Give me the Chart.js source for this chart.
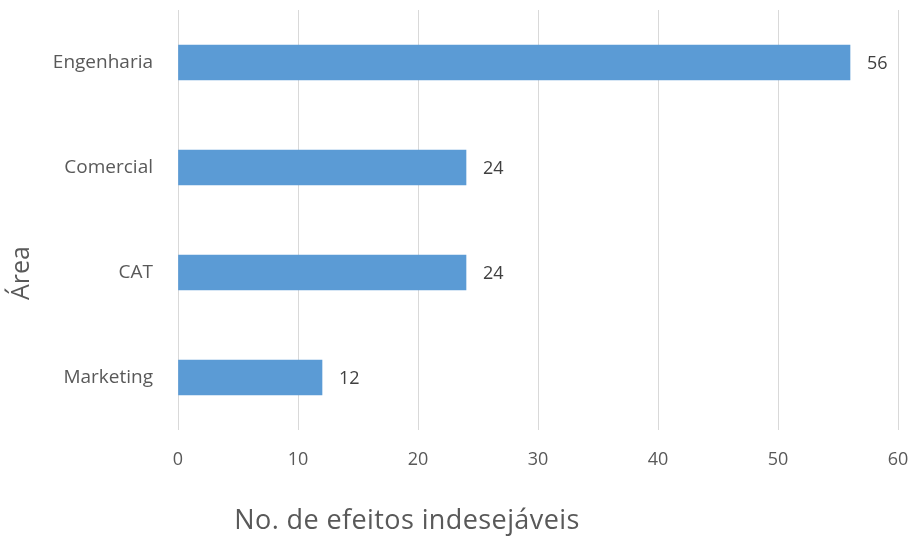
<!DOCTYPE html>
<html><head><meta charset="utf-8">
<script src="https://cdn.jsdelivr.net/npm/chart.js@4/dist/chart.umd.min.js"></script>
<style>html,body{margin:0;padding:0;background:#fff}#wrap{width:914px;height:540px}</style>
</head><body><div id="wrap"><canvas id="c" width="914" height="540"></canvas></div>
<script>
const categories = ["Engenharia", "Comercial", "CAT", "Marketing"];
const values = [56, 24, 24, 12];
const xTicks = [0, 10, 20, 30, 40, 50, 60];
const xTitle = "No. de efeitos indesejáveis";
const yTitle = "Área";

const labelPlugin = {
  id: 'barLabels',
  afterDatasetsDraw(chart) {
    const ctx = chart.ctx;
    const meta = chart.getDatasetMeta(0);
    ctx.save();
    ctx.font = '18px "Open Sans"';
    ctx.fillStyle = '#404040';
    ctx.textAlign = 'left';
    ctx.textBaseline = 'middle';
    meta.data.forEach((el, i) => {
      ctx.fillText(String(values[i]), el.x + 17, el.y + 1);
    });
    ctx.restore();
  },
  afterDraw(chart) {
    const ctx = chart.ctx;
    ctx.save();
    ctx.fillStyle = '#595959';
    ctx.textBaseline = 'middle';
    ctx.textAlign = 'center';
    ctx.font = '27px "Open Sans"';
    try { ctx.letterSpacing = '0.4px'; } catch (e) {}
    ctx.fillText(xTitle, 407, 521);
    ctx.font = '25px "Open Sans"';
    try { ctx.letterSpacing = '0px'; } catch (e) {}
    ctx.translate(22, 273);
    ctx.rotate(-Math.PI / 2);
    ctx.fillText(yTitle, 0, 0);
    ctx.restore();
  }
};

new Chart(document.getElementById('c'), {
  type: 'bar',
  data: {
    labels: categories,
    datasets: [{ data: values, backgroundColor: '#5B9BD5', borderWidth: 0, barThickness: 35 }]
  },
  options: {
    indexAxis: 'y',
    responsive: false,
    animation: false,
    layout: { padding: { left: 0, right: 16, top: 10, bottom: 0 } },
    plugins: { legend: { display: false }, tooltip: { enabled: false } },
    scales: {
      x: {
        min: 0, max: 60,
        afterBuildTicks(s) { s.ticks = xTicks.map(v => ({ value: v })); },
        afterFit(s) { s.height = 110; s.paddingLeft = 0; s.paddingRight = 0; },
        grid: { color: '#d9d9d9', tickLength: 0, drawTicks: false },
        border: { display: false },
        ticks: { padding: 19, color: '#595959', maxRotation: 0, font: { family: 'Open Sans', size: 18 } },
        title: { display: false }
      },
      y: {
        afterFit(s) { s.width = 178; s.paddingTop = 0; s.paddingBottom = 0; },
        grid: { display: false },
        border: { display: false },
        ticks: { padding: 17, color: '#595959', font: { family: 'Open Sans', size: 19 } },
        title: { display: false }
      }
    }
  },
  plugins: [labelPlugin]
});
</script></body></html>
